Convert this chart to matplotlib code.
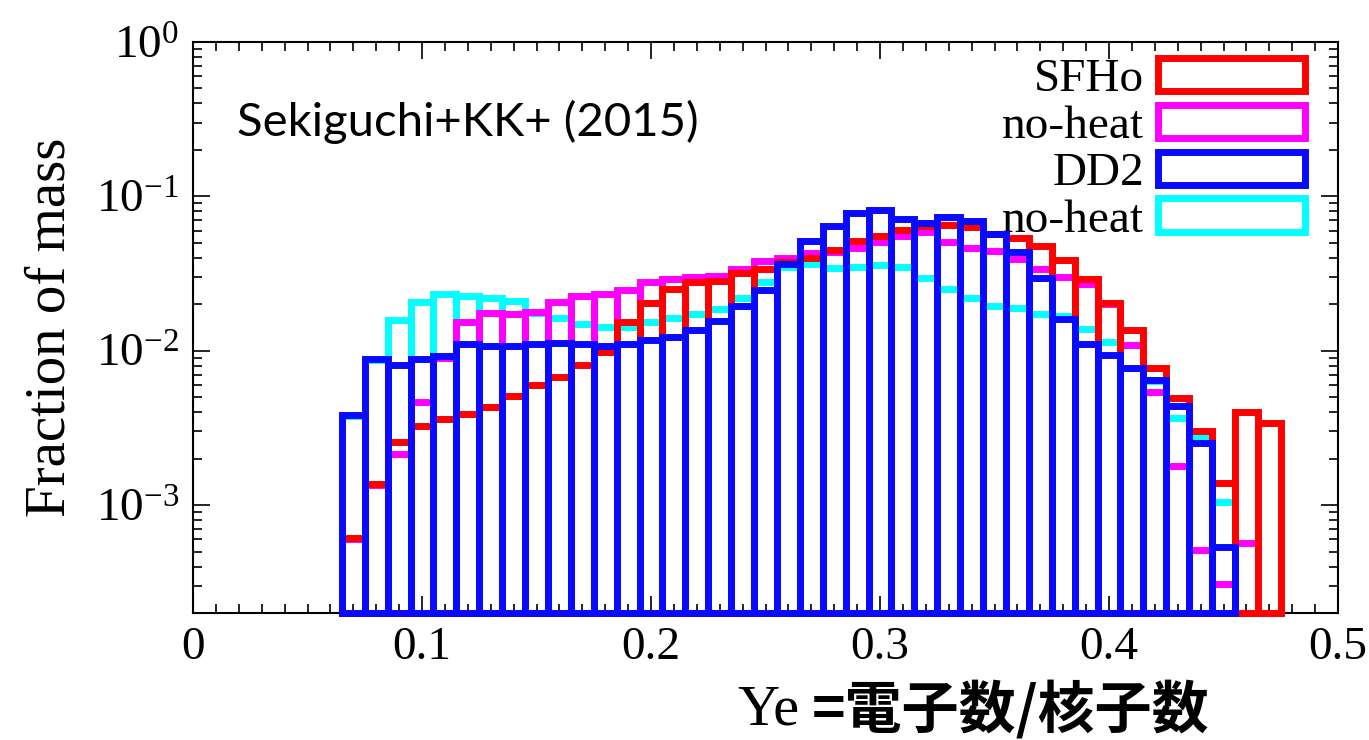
import matplotlib
matplotlib.use("Agg")
import matplotlib.pyplot as plt
import numpy as np

# serif text like the gnuplot original, CJK falls back to Noto
plt.rcParams['font.family'] = ['Liberation Serif', 'Noto Sans CJK JP']
plt.rcParams['mathtext.fontset'] = 'custom'
plt.rcParams['mathtext.rm'] = 'Liberation Serif'
plt.rcParams['mathtext.it'] = 'Liberation Serif:italic'

# bin centres in Ye (bin width 0.01)
ye_bins = [0.07, 0.08, 0.09, 0.10, 0.11, 0.12, 0.13, 0.14, 0.15, 0.16,
           0.17, 0.18, 0.19, 0.20, 0.21, 0.22, 0.23, 0.24, 0.25, 0.26,
           0.27, 0.28, 0.29, 0.30, 0.31, 0.32, 0.33, 0.34, 0.35, 0.36,
           0.37, 0.38, 0.39, 0.40, 0.41, 0.42, 0.43, 0.44, 0.45, 0.46,
           0.47]

# fraction of mass per bin (None = no bar)
sfho = [6.1e-4, 1.37e-3, 2.58e-3, 3.25e-3, 3.63e-3, 3.92e-3, 4.3e-3, 5.07e-3, 6.04e-3, 6.8e-3,
        8.1e-3, 9.8e-3, 1.53e-2, 2.03e-2, 2.5e-2, 2.8e-2, 2.85e-2, 3.18e-2, 3.4e-2, 3.75e-2,
        3.96e-2, 4.5e-2, 5.15e-2, 5.55e-2, 6.1e-2, 6.4e-2, 6.5e-2, 6.3e-2, 5.7e-2, 5.4e-2,
        4.8e-2, 3.87e-2, 2.92e-2, 2.03e-2, 1.37e-2, 7.7e-3, 4.95e-3, 3.02e-3, 1.39e-3, 4.0e-3,
        3.4e-3]
sfho_noheat = [6.0e-4, 1.35e-3, 2.13e-3, 4.67e-3, 9.0e-3, 1.53e-2, 1.75e-2, 1.74e-2, 1.78e-2, 2.06e-2,
               2.25e-2, 2.33e-2, 2.48e-2, 2.8e-2, 2.93e-2, 3.0e-2, 3.05e-2, 3.37e-2, 3.8e-2, 4.0e-2,
               4.3e-2, 4.35e-2, 4.6e-2, 5.05e-2, 5.5e-2, 5.9e-2, 5.1e-2, 4.65e-2, 4.4e-2, 3.9e-2,
               3.4e-2, 3.0e-2, 2.72e-2, 2.0e-2, 1.09e-2, 5.4e-3, 1.8e-3, 5.1e-4, 3.1e-4, 5.7e-4,
               None]
dd2 = [3.83e-3, 8.8e-3, 8.1e-3, 8.8e-3, 9.3e-3, 1.1e-2, 1.07e-2, 1.07e-2, 1.1e-2, 1.12e-2,
       1.11e-2, 1.07e-2, 1.11e-2, 1.17e-2, 1.23e-2, 1.36e-2, 1.56e-2, 1.96e-2, 2.47e-2, 3.63e-2,
       5.15e-2, 6.42e-2, 7.8e-2, 8.1e-2, 7.12e-2, 6.7e-2, 7.35e-2, 6.93e-2, 5.67e-2, 4.37e-2,
       2.95e-2, 1.61e-2, 1.11e-2, 9.4e-3, 7.73e-3, 6.5e-3, 4.38e-3, 2.54e-3, 5.33e-4, None,
       None]
dd2_noheat = [3.8e-3, 8.7e-3, 1.57e-2, 2.08e-2, 2.33e-2, 2.25e-2, 2.19e-2, 2.11e-2, 1.75e-2, 1.62e-2,
              1.5e-2, 1.42e-2, 1.42e-2, 1.53e-2, 1.62e-2, 1.73e-2, 1.86e-2, 2.2e-2, 2.78e-2, 3.5e-2,
              3.64e-2, 3.45e-2, 3.5e-2, 3.6e-2, 3.49e-2, 2.98e-2, 2.5e-2, 2.19e-2, 1.96e-2, 1.88e-2,
              1.73e-2, 1.68e-2, 1.39e-2, 1.14e-2, 7.7e-3, 6.4e-3, 3.64e-3, 2.75e-3, 1.05e-3, None,
              None]

series_labels = ["SFHo", "no-heat", "DD2", "no-heat"]
series_colors = ["#ff0000", "#ff00ff", "#0a0aff", "#00ffff"]
xtick_vals = [0, 0.1, 0.2, 0.3, 0.4, 0.5]
xtick_labels = ["0", "0.1", "0.2", "0.3", "0.4", "0.5"]

bin_width = 0.01
ymin, ymax = 2e-4, 1.0

fig = plt.figure(figsize=(13.69, 7.40), dpi=100)
ax = fig.add_axes([193/1369, 1 - 613/740, (1338 - 193)/1369, (613 - 42)/740])

def draw(vals, color, z):
    x = [b for b, v in zip(ye_bins, vals) if v is not None]
    h = [v - ymin for v in vals if v is not None]
    return ax.bar(x, h, width=bin_width, bottom=ymin, fill=False,
                  edgecolor=color, linewidth=5.0, zorder=z, clip_on=False)

# drawing order: cyan at the back, blue on top
b_cyan = draw(dd2_noheat, series_colors[3], 3)
b_mag = draw(sfho_noheat, series_colors[1], 4)
b_red = draw(sfho, series_colors[0], 5)
b_blue = draw(dd2, series_colors[2], 6)

ax.set_yscale('log')
ax.set_ylim(ymin, ymax)
ax.set_xlim(0, 0.5)
ax.set_xticks(xtick_vals, labels=xtick_labels)
ax.xaxis.set_minor_locator(matplotlib.ticker.MultipleLocator(0.01))

ax.tick_params(which='both', direction='in', top=True, right=True, width=1.2)
ax.tick_params(which='major', length=12, labelsize=34, pad=10)
ax.tick_params(which='minor', length=6.5)
for s in ax.spines.values():
    s.set_linewidth(1.5)

ax.set_ylabel("Fraction of mass", fontsize=41)
ax.yaxis.set_label_coords(-0.102, 0.5)

fig.text(800/1369, 0.04, "Ye", fontsize=42, ha='right', va='center',
         family='Liberation Serif')
fig.text(812/1369, 0.04, "=電子数/核子数", fontsize=41, ha='left', va='center',
         family=['Noto Sans CJK JP', 'DejaVu Sans'], fontweight='bold')

ax.text(0.038, 0.86, "Sekiguchi+KK+ (2015)", transform=ax.transAxes,
        fontsize=34, family='Lato', ha='left', va='center')

leg = ax.legend([b_red, b_mag, b_blue, b_cyan], series_labels,
                loc='upper right', bbox_to_anchor=(0.971, 0.972),
                frameon=False, markerfirst=False, fontsize=34,
                handlelength=3.1, handleheight=0.7, handletextpad=0.3,
                labelspacing=0.08, borderpad=0, borderaxespad=0)

fig.savefig("out.png", dpi=100)
